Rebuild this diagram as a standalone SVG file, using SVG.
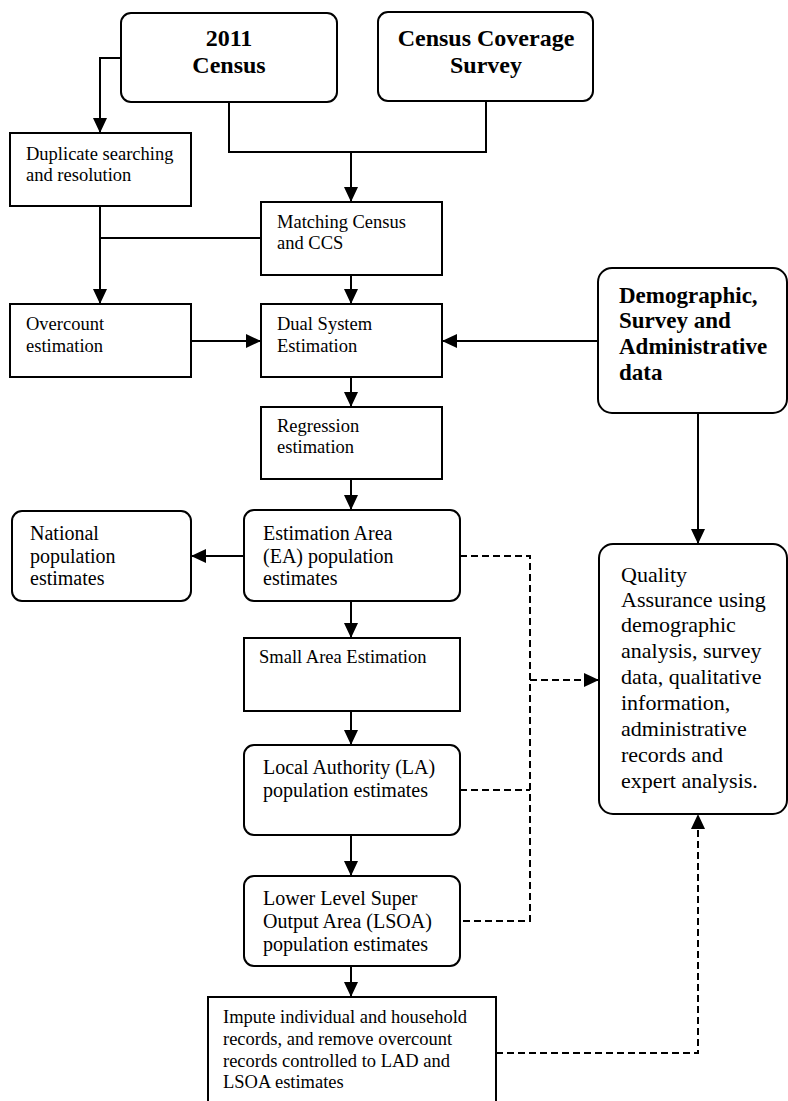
<svg xmlns="http://www.w3.org/2000/svg" width="788" height="1101" viewBox="0 0 788 1101">
<defs>
<marker id="arr" markerUnits="userSpaceOnUse" markerWidth="16" markerHeight="14" refX="15" refY="7" orient="auto">
<path d="M0,0 L15,7 L0,14 z" fill="#000" stroke="none"/>
</marker>
<style>
.box{fill:#fff;stroke:#000;stroke-width:2}
.t{font-family:"Liberation Serif","Times New Roman",serif;fill:#000}
.s18{font-size:18.5px}
.s20{font-size:20px}
.s22{font-size:22px}
.b{font-weight:bold}
.ln{fill:none;stroke:#000;stroke-width:2}
.ar{marker-end:url(#arr)}
.ds{stroke-dasharray:7 4}
</style>
</defs>
<rect width="788" height="1101" fill="#fff"/>
<g id="connectors">
<polyline class="ln ar" points="121,58 100,58 100,133"/>
<polyline class="ln" points="229,102 229,152 486,152 486,101"/>
<line class="ln ar" x1="351" y1="152" x2="351" y2="202"/>
<line class="ln ar" x1="100" y1="206" x2="100" y2="304"/>
<line class="ln" x1="261" y1="238" x2="100" y2="238"/>
<line class="ln ar" x1="351" y1="275" x2="351" y2="304"/>
<line class="ln ar" x1="191" y1="341" x2="261" y2="341"/>
<line class="ln ar" x1="598" y1="341" x2="442" y2="341"/>
<line class="ln ar" x1="351" y1="377" x2="351" y2="407"/>
<line class="ln ar" x1="351" y1="479" x2="351" y2="510"/>
<line class="ln ar" x1="244" y1="556" x2="191" y2="556"/>
<line class="ln ar" x1="351" y1="601" x2="351" y2="638"/>
<line class="ln ar" x1="351" y1="711" x2="351" y2="745"/>
<line class="ln ar" x1="351" y1="835" x2="351" y2="876"/>
<line class="ln ar" x1="351" y1="966" x2="351" y2="997"/>
<line class="ln ar" x1="698" y1="413" x2="698" y2="544"/>
<polyline class="ln ds" points="460,556 530,556 530,921 460,921"/>
<line class="ln ds" x1="460" y1="790" x2="530" y2="790"/>
<line class="ln ds ar" x1="530" y1="680" x2="599" y2="680"/>
<polyline class="ln ds ar" points="496,1053 698,1053 698,814"/>
</g>
<g id="census2011">
<rect class="box" x="121" y="13" width="216" height="89" rx="10"/>
<text class="t b" font-size="24" text-anchor="middle" x="229" y="46">2011</text>
<text class="t b" font-size="24" text-anchor="middle" x="229" y="73">Census</text>
</g>
<g id="ccs">
<rect class="box" x="378" y="12" width="215" height="89" rx="10"/>
<text class="t b" font-size="24" text-anchor="middle" x="486" y="46">Census Coverage</text>
<text class="t b" font-size="24" text-anchor="middle" x="486" y="73">Survey</text>
</g>
<g id="duplicate">
<rect class="box" x="10" y="133" width="181" height="73"/>
<text class="t s18" x="26" y="160">Duplicate searching</text>
<text class="t s18" x="26" y="181">and resolution</text>
</g>
<g id="matching">
<rect class="box" x="261" y="202" width="181" height="73"/>
<text class="t s18" x="277" y="228">Matching Census</text>
<text class="t s18" x="277" y="249">and CCS</text>
</g>
<g id="overcount">
<rect class="box" x="10" y="304" width="181" height="73"/>
<text class="t s18" x="26" y="330">Overcount</text>
<text class="t s18" x="26" y="352">estimation</text>
</g>
<g id="dse">
<rect class="box" x="261" y="304" width="181" height="73"/>
<text class="t s18" x="277" y="330">Dual System</text>
<text class="t s18" x="277" y="352">Estimation</text>
</g>
<g id="regression">
<rect class="box" x="261" y="407" width="181" height="72"/>
<text class="t s18" x="277" y="432">Regression</text>
<text class="t s18" x="277" y="453">estimation</text>
</g>
<g id="national">
<rect class="box" x="12" y="511" width="179" height="90" rx="10"/>
<text class="t s20" x="30" y="540">National</text>
<text class="t s20" x="30" y="563">population</text>
<text class="t s20" x="30" y="585">estimates</text>
</g>
<g id="ea">
<rect class="box" x="244" y="510" width="216" height="91" rx="10"/>
<text class="t s20" x="263" y="540">Estimation Area</text>
<text class="t s20" x="263" y="563">(EA) population</text>
<text class="t s20" x="263" y="585">estimates</text>
</g>
<g id="small">
<rect class="box" x="244" y="638" width="216" height="73"/>
<text class="t s18" x="259" y="663">Small Area Estimation</text>
</g>
<g id="la">
<rect class="box" x="244" y="745" width="216" height="90" rx="10"/>
<text class="t s20" x="263" y="774">Local Authority (LA)</text>
<text class="t s20" x="263" y="797">population estimates</text>
</g>
<g id="lsoa">
<rect class="box" x="244" y="876" width="216" height="90" rx="10"/>
<text class="t s20" x="263" y="905">Lower Level Super</text>
<text class="t s20" x="263" y="928">Output Area (LSOA)</text>
<text class="t s20" x="263" y="951">population estimates</text>
</g>
<g id="impute">
<rect class="box" x="208" y="997" width="288" height="107"/>
<text class="t s18" x="223" y="1023">Impute individual and household</text>
<text class="t s18" x="223" y="1045">records, and remove overcount</text>
<text class="t s18" x="223" y="1067">records controlled to LAD and</text>
<text class="t s18" x="223" y="1088">LSOA estimates</text>
</g>
<g id="demographic">
<rect class="box" x="598" y="268" width="189" height="145" rx="14"/>
<text class="t b" font-size="23" x="619" y="303">Demographic,</text>
<text class="t b" font-size="23" x="619" y="328">Survey and</text>
<text class="t b" font-size="23" x="619" y="354">Administrative</text>
<text class="t b" font-size="23" x="619" y="380">data</text>
</g>
<g id="quality">
<rect class="box" x="599" y="544" width="188" height="270" rx="14"/>
<text class="t s22" x="621" y="582">Quality</text>
<text class="t s22" x="621" y="607">Assurance using</text>
<text class="t s22" x="621" y="632">demographic</text>
<text class="t s22" x="621" y="658">analysis, survey</text>
<text class="t s22" x="621" y="684">data, qualitative</text>
<text class="t s22" x="621" y="710">information,</text>
<text class="t s22" x="621" y="736">administrative</text>
<text class="t s22" x="621" y="762">records and</text>
<text class="t s22" x="621" y="788">expert analysis.</text>
</g>
</svg>
